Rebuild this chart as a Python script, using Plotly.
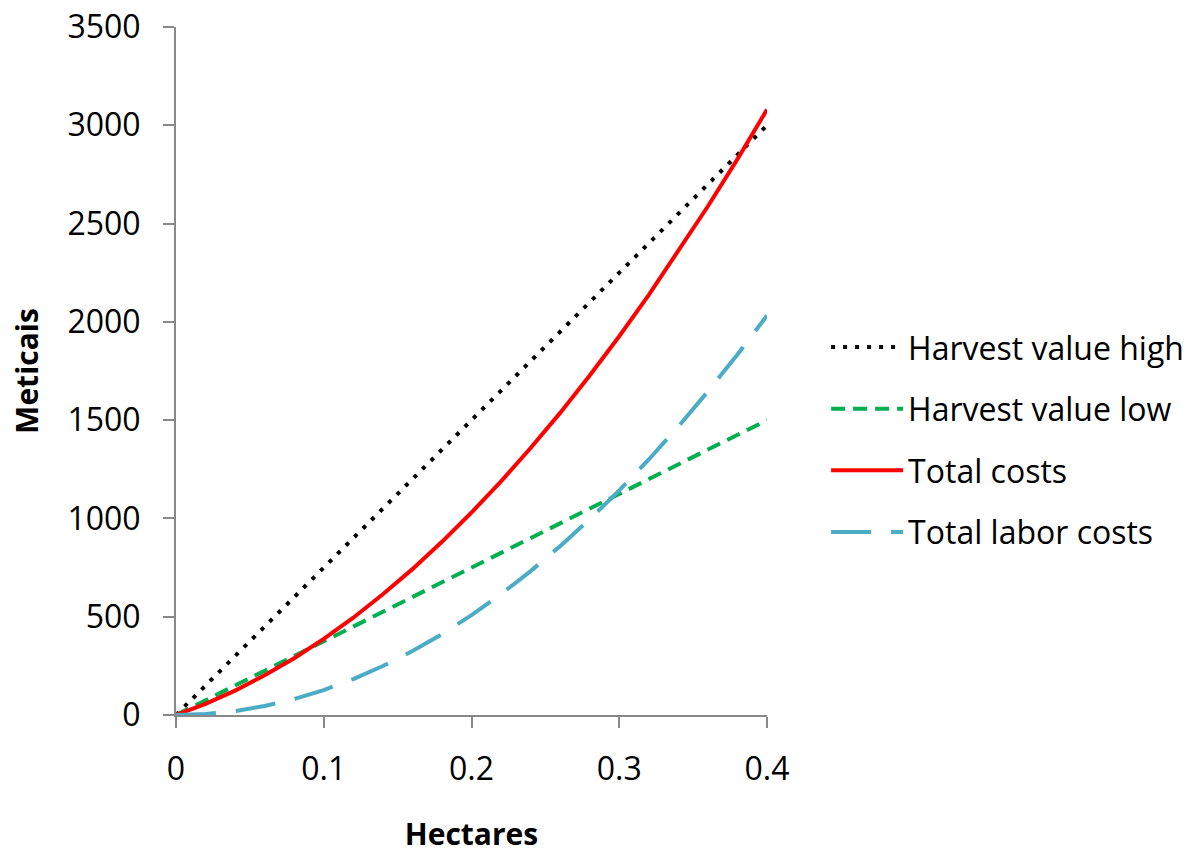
import plotly.graph_objects as go

hectares = [0, 0.02, 0.04, 0.06, 0.08, 0.10, 0.12, 0.14, 0.16, 0.18, 0.20,
            0.22, 0.24, 0.26, 0.28, 0.30, 0.32, 0.34, 0.36, 0.38, 0.40]
harvest_high = [0, 150, 300, 450, 600, 750, 900, 1050, 1200, 1350, 1500,
                1650, 1800, 1950, 2100, 2250, 2400, 2550, 2700, 2850, 3000]
harvest_low = [0, 75, 150, 225, 300, 375, 450, 525, 600, 675, 750,
               825, 900, 975, 1050, 1125, 1200, 1275, 1350, 1425, 1500]
total_costs = [0, 57, 124, 202, 289, 387, 495, 614, 742, 881, 1030,
               1189, 1358, 1537, 1727, 1927, 2137, 2358, 2588, 2828, 3080]
labor_costs = [0, 5, 20, 46, 81, 127, 183, 249, 325, 411, 508,
               615, 732, 859, 996, 1143, 1300, 1468, 1646, 1834, 2032]

series = [
    ("Harvest value high", harvest_high, "#000000", "4px,8px"),
    ("Harvest value low", harvest_low, "#00B050", "14px,8px"),
    ("Total costs", total_costs, "#FF0000", "solid"),
    ("Total labor costs", labor_costs, "#4BACC6", "40px,20px"),
]

FONT = "Open Sans"
fig = go.Figure()
for name, vals, color, dash in series:
    fig.add_trace(go.Scatter(
        x=hectares, y=vals, mode="lines", name=name, legendgroup=name,
        line=dict(color=color, width=4, dash=dash),
    ))

axis_common = dict(
    showgrid=False, zeroline=False, showline=True, linecolor="#888888",
    linewidth=2, ticks="outside", ticklen=11, tickwidth=2, tickcolor="#888888",
    tickfont=dict(family=FONT, size=32, color="#000000"), automargin=False,
)

fig.update_layout(
    width=1194, height=854,
    margin=dict(l=176, r=427, t=27, b=139, autoexpand=False),
    paper_bgcolor="white", plot_bgcolor="white",
    font=dict(family=FONT, color="#000000"),
    xaxis=dict(range=[0, 0.4], tickvals=[0, 0.1, 0.2, 0.3, 0.4],
               ticktext=["0", "0.1", "0.2", "0.3", "0.4"],
               title=dict(text="<b>Hectares</b>", font=dict(family=FONT, size=30), standoff=46),
               ticklabelstandoff=14, **axis_common),
    yaxis=dict(range=[0, 3500], tickvals=[0, 500, 1000, 1500, 2000, 2500, 3000, 3500],
               title=dict(text="<b>Meticais</b>", font=dict(family=FONT, size=30), standoff=20),
               ticklabelstandoff=16, **axis_common),
    legend=dict(x=1.100, y=0.40, xanchor="left", yanchor="middle",
                font=dict(family=FONT, size=32), traceorder="grouped",
                tracegroupgap=17, itemwidth=72, bgcolor="rgba(0,0,0,0)"),
)

fig.write_html("out.html")
